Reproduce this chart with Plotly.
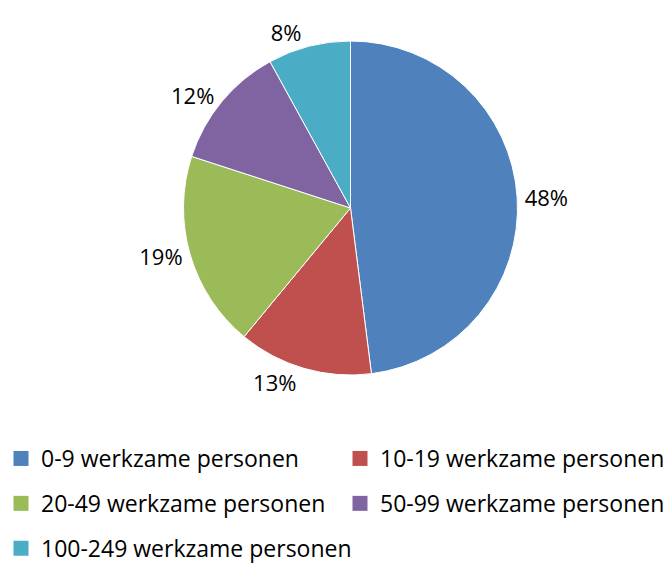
import plotly.graph_objects as go

categories = ["0-9 werkzame personen", "10-19 werkzame personen", "20-49 werkzame personen",
              "50-99 werkzame personen", "100-249 werkzame personen"]
shares = [48, 13, 19, 12, 8]
colors = ["#4F81BD", "#C0504D", "#9BBB59", "#8064A2", "#4BACC6"]
legend_cols = ["legend", "legend2", "legend", "legend2", "legend"]

FONT = "Open Sans"

fig = go.Figure()
fig.add_trace(go.Pie(
    labels=categories, values=shares, sort=False, direction="clockwise", rotation=0,
    marker=dict(colors=colors, line=dict(color="white", width=1)),
    textinfo="percent", texttemplate="%{value}%", textposition="outside",
    textfont=dict(family=FONT, size=22, color="black"),
    showlegend=False, hoverinfo="label+percent",
    domain=dict(x=[175.5/672, 509.5/672], y=[198/565, 532/565]),
))

for i, (name, col, lg) in enumerate(zip(categories, colors, legend_cols)):
    fig.add_trace(go.Scatter(x=[None], y=[None], mode="markers", name=name,
                             marker=dict(symbol="square", size=15, color=col),
                             legend=lg, legendgroup=f"g{i}", showlegend=True))

leg_common = dict(orientation="v", xanchor="left", yanchor="top",
                  traceorder="grouped", tracegroupgap=12,
                  font=dict(family=FONT, size=23, color="black"),
                  bgcolor="rgba(0,0,0,0)", itemsizing="trace")
fig.update_layout(
    width=672, height=565, margin=dict(l=0, r=0, t=0, b=0, autoexpand=False),
    paper_bgcolor="white", plot_bgcolor="white",
    xaxis=dict(visible=False), yaxis=dict(visible=False),
    legend=dict(x=-7/672, y=1-429/565, **leg_common),
    legend2=dict(x=332/672, y=1-429/565, **leg_common),
)
fig.write_html("out.html")
